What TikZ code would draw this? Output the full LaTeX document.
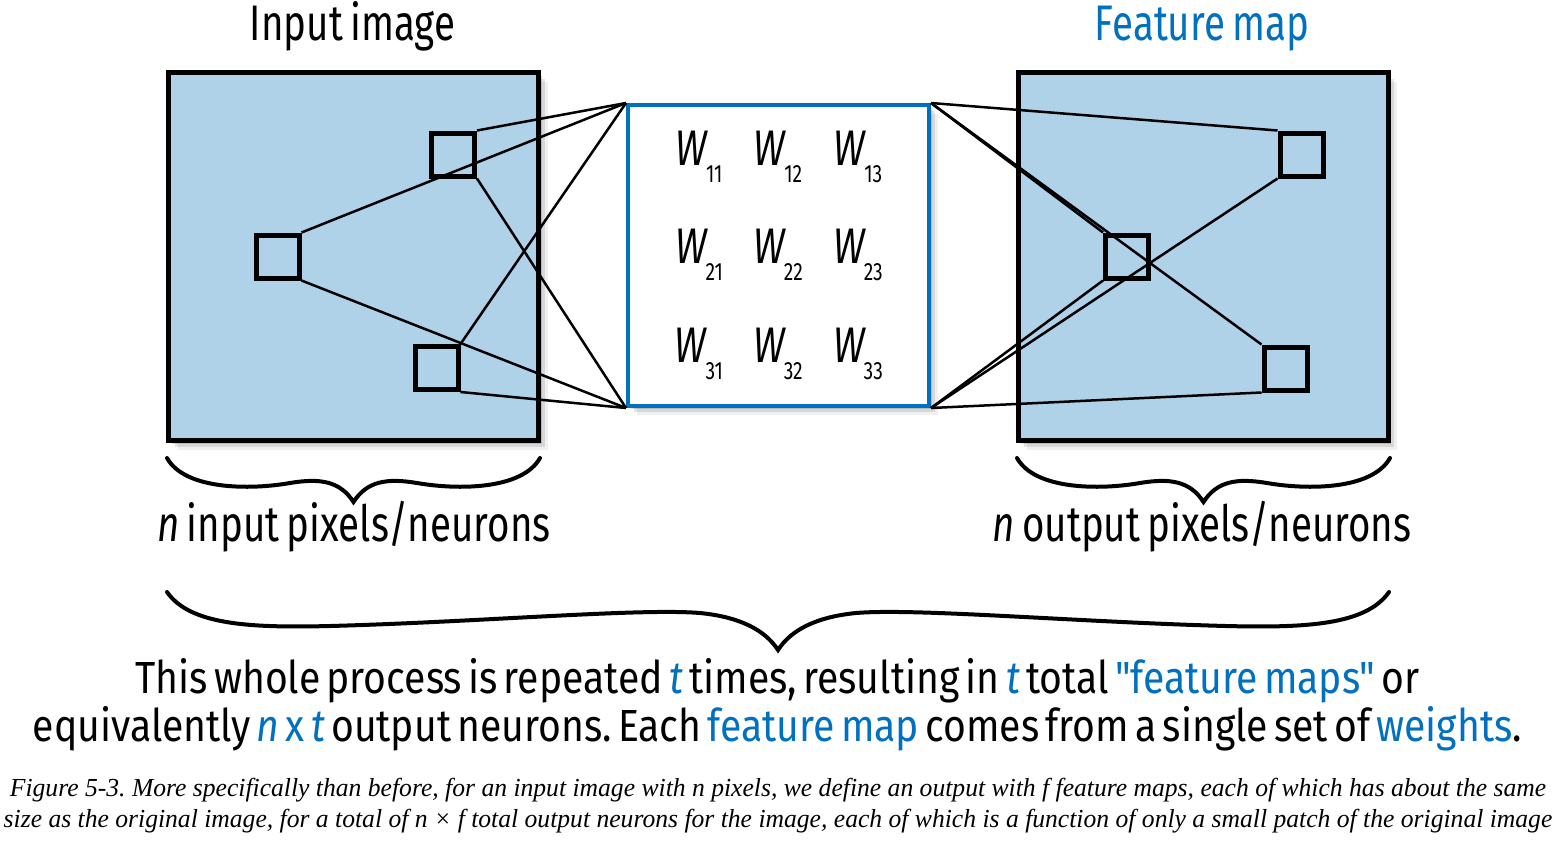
\documentclass[tikz,border=0pt]{standalone}
\usepackage{fontspec}
\setmainfont{Liberation Serif}
\newfontfamily\labelfont[FakeStretch=0.77,WordSpace=0.7]{Fira Sans}
\newfontfamily\sumfont[FakeStretch=0.87,WordSpace=0.6]{Fira Sans}
\newfontfamily\capfont[FakeStretch=0.985]{Liberation Serif}
\usetikzlibrary{shadows,positioning}
\definecolor{mapBlue}{RGB}{0,112,192}
\definecolor{pixFill}{RGB}{176,210,233}
\newcommand\wgt[1]{\textit{W}\kern-1pt\raisebox{-17pt}{\upshape\fontsize{25}{25}\selectfont #1}}
\newcommand\hl[1]{\textcolor{mapBlue}{#1}}
\frenchspacing

\begin{document}
\begin{tikzpicture}[x=1pt,y=-1pt,
  soft shadow/.style={
    drop shadow={shadow xshift=3pt,shadow yshift=-3pt,opacity=.14,fill=black},
    drop shadow={shadow xshift=6pt,shadow yshift=-6pt,opacity=.10,fill=black},
    drop shadow={shadow xshift=9pt,shadow yshift=-9pt,opacity=.06,fill=black}},
  grid box/.style={rectangle, draw=black, line width=5pt, fill=pixFill,
                   minimum width=370pt, minimum height=368pt, soft shadow},
  patch/.style={rectangle, draw=black, line width=5pt, fill=pixFill,
                minimum size=43pt, inner sep=0pt},
  kernel/.style={rectangle, draw=mapBlue, line width=4pt, fill=white,
                 minimum size=301pt, soft shadow},
  link/.style={line width=2.5pt, black},
  curly/.style={line width=4pt, line cap=round, line join=miter},
  label text/.style={font=\labelfont\fontsize{50}{60}\selectfont, inner sep=0pt},
  wgt text/.style={font=\labelfont\itshape\fontsize{50}{60}\selectfont, inner sep=0pt},
  sum text/.style={font=\sumfont\fontsize{45}{54}\selectfont, inner sep=0pt},
  cap text/.style={font=\capfont\itshape\fontsize{26}{31}\selectfont, inner sep=0pt}
]
  \useasboundingbox[fill=white] (0,0) rectangle (1561,841);

  % input image, weights, feature map
  \node[grid box] (input) at (353.5,256.5) {};
  \node[grid box] (fmap)  at (1203,256.5) {};
  \node[kernel]   (kern)  at (778.5,255.5) {};

  \node[patch] (inA) at (453,154.5) {};
  \node[patch] (inB) at (277.5,256.5) {};
  \node[patch] (inC) at (436.5,368) {};
  \node[patch] (outA) at (1301.5,154.5) {};
  \node[patch] (outB) at (1127,256.5) {};
  \node[patch] (outC) at (1285.5,368.5) {};

  \foreach \r/\ry in {1/165,2/263,3/362}
    \foreach \c/\cx in {1/699,2/778,3/858}
      \node[wgt text, anchor=base] (w\r\c) at (\cx,\ry) {\wgt{\r\c}};

  % receptive fields to the kernel corners
  \foreach \p in {inA,inB,inC} {
    \draw[link] (\p.north east) -- (kern.north west);
    \draw[link] (\p.south east) -- (kern.south west);
  }
  \foreach \p in {outA,outB,outC} {
    \draw[link] (kern.north east) -- (\p.north west);
    \draw[link] (kern.south east) -- (\p.south west);
  }

  % braces
  \draw[curly] (167,458) .. controls (185,490) and (250,490) .. (290,483)
    .. controls (320,478) and (340,481) .. (353.5,502)
    .. controls (367,481) and (387,478) .. (417,483)
    .. controls (457,490) and (522,490) .. (540,458);
  \draw[curly] (1017,458) .. controls (1035,490) and (1100,490) .. (1140,483)
    .. controls (1170,478) and (1190,481) .. (1203.5,502)
    .. controls (1217,481) and (1237,478) .. (1267,483)
    .. controls (1307,490) and (1372,490) .. (1390,458);
  \draw[curly] (167,592) .. controls (190,625) and (250,628) .. (330,626)
    .. controls (480,622) and (640,608) .. (700,613)
    .. controls (740,617) and (765,630) .. (778,650)
    .. controls (791,630) and (816,617) .. (856,613)
    .. controls (916,608) and (1076,622) .. (1226,626)
    .. controls (1306,628) and (1366,625) .. (1389,592);

  % texts
  \node[label text, anchor=base] (inTitle) at (352.5,40) {Input image};
  \node[label text, anchor=base, text=mapBlue] (mapTitle) at (1202,40) {Feature map};
  \node[label text, anchor=base] (inCount) at (354,541)
    {\textit{n} input pixels/neurons};
  \node[label text, anchor=base] (outCount) at (1202,541)
    {\textit{n} output pixels/neurons};

  \node[sum text, anchor=base] (sum1) at (777.5,693)
    {This whole process is repeated \hl{\textit{t}} times, resulting in
     \hl{\textit{t}} total \hl{"feature maps"} or};
  \node[sum text, anchor=base] (sum2) at (777.5,741)
    {equivalently \hl{\textit{n} x \textit{t}} output neurons. Each
     \hl{feature map} comes from a single set of \hl{weights}.};

  \node[cap text, anchor=base] (cap1) at (778,796)
    {Figure 5-3. More specifically than before, for an input image with n pixels,
     we define an output with f feature maps, each of which has about the same};
  \node[cap text, anchor=base] (cap2) at (778,827)
    {size as the original image, for a total of n × f total output neurons for
     the image, each of which is a function of only a small patch of the original image};
\end{tikzpicture}
\end{document}
